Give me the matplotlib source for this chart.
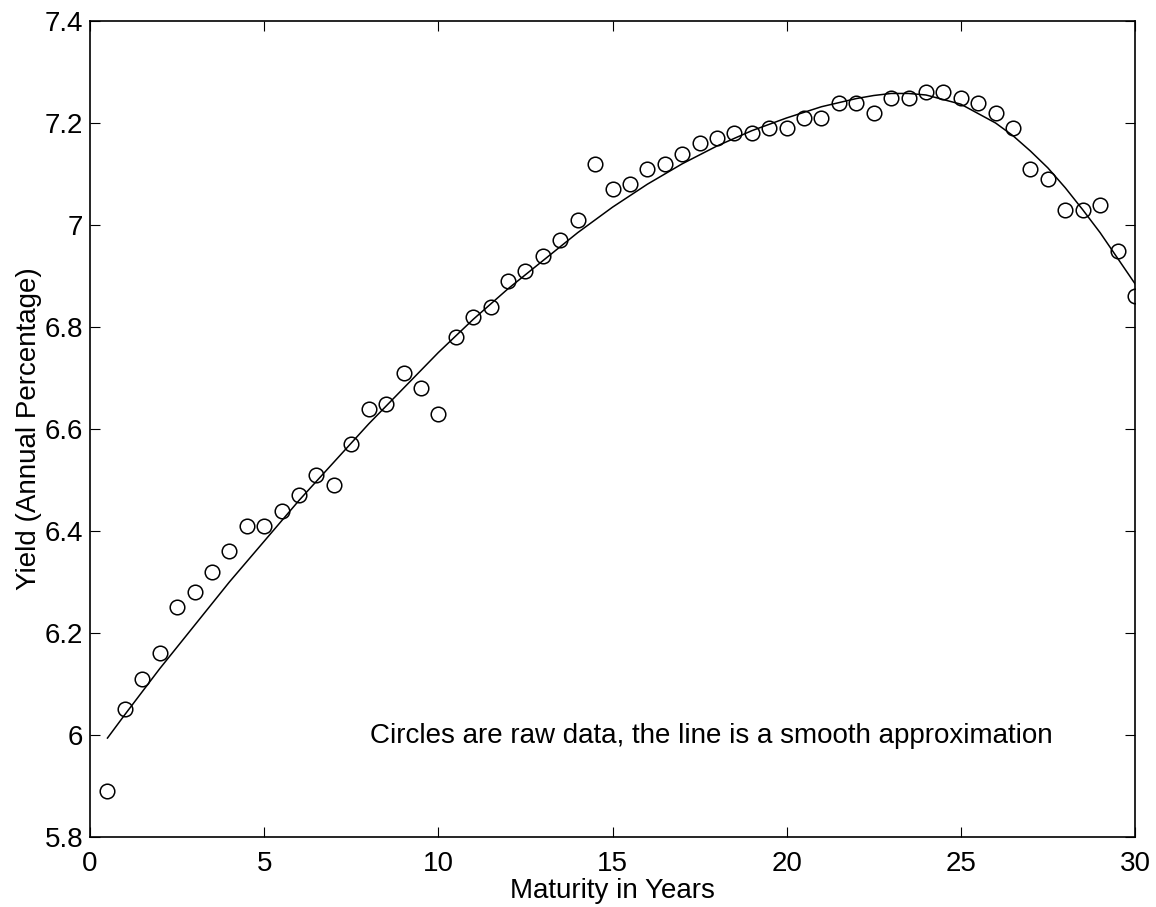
import numpy as np
import matplotlib
matplotlib.use('Agg')
import matplotlib.pyplot as plt

# raw yields (maturity 0.5 .. 30 years)
maturity = np.arange(1, 61) * 0.5
yields = [5.89, 6.05, 6.11, 6.16, 6.25, 6.28, 6.32, 6.36, 6.41, 6.41,
          6.44, 6.47, 6.51, 6.49, 6.57, 6.64, 6.65, 6.71, 6.68, 6.63,
          6.78, 6.82, 6.84, 6.89, 6.91, 6.94, 6.97, 7.01, 7.12, 7.07,
          7.08, 7.11, 7.12, 7.14, 7.16, 7.17, 7.18, 7.18, 7.19, 7.19,
          7.21, 7.21, 7.24, 7.24, 7.22, 7.25, 7.25, 7.26, 7.26, 7.25,
          7.24, 7.22, 7.19, 7.11, 7.09, 7.03, 7.03, 7.04, 6.95, 6.86]

# smooth approximation, sampled from the drawn curve
smooth_x = [0.5, 1, 1.5, 2, 3, 4, 5, 6, 7, 8, 9, 10, 11, 12, 13, 14, 15, 16,
            17, 18, 19, 20, 21, 22, 22.5, 23, 23.5, 24, 25, 26, 26.5, 27,
            27.5, 28, 28.5, 29, 29.5, 30]
smooth_y = [5.994, 6.04, 6.085, 6.13, 6.215, 6.30, 6.38, 6.46, 6.535, 6.61,
            6.68, 6.75, 6.815, 6.875, 6.93, 6.985, 7.035, 7.08, 7.12, 7.155,
            7.185, 7.21, 7.232, 7.248, 7.254, 7.258, 7.258, 7.255, 7.237,
            7.20, 7.175, 7.145, 7.112, 7.073, 7.03, 6.985, 6.935, 6.885]

plt.rcParams['font.family'] = ['Liberation Sans', 'DejaVu Sans']

fig = plt.figure(figsize=(11.56, 9.07), dpi=100)
ax = fig.add_axes([0.0779, 0.0772, 0.9039, 0.8996])

ax.plot(maturity, yields, 'o', mfc='none', mec='black', ms=10.5, mew=1.1)
ax.plot(smooth_x, smooth_y, '-', color='black', lw=1.1)

ax.set_xlim(0, 30)
ax.set_ylim(5.8, 7.4)
ax.set_xticks([0, 5, 10, 15, 20, 25, 30])
ax.set_yticks([5.8, 6.0, 6.2, 6.4, 6.6, 6.8, 7.0, 7.2, 7.4])
ax.set_yticklabels(['5.8', '6', '6.2', '6.4', '6.6', '6.8', '7', '7.2', '7.4'])
ax.tick_params(direction='in', top=True, right=True, length=7, width=0.8,
               labelsize=20)
ax.tick_params(axis='x', pad=10)
ax.tick_params(axis='y', pad=5)
for s in ax.spines.values():
    s.set_linewidth(1.2)

ax.set_xlabel('Maturity in Years', fontsize=20, labelpad=1)
ax.set_ylabel('Yield (Annual Percentage)', fontsize=20, labelpad=2)
ax.text(8.04, 5.984, 'Circles are raw data, the line is a smooth approximation',
        fontsize=20, va='baseline')

fig.savefig('out.png', dpi=100)
